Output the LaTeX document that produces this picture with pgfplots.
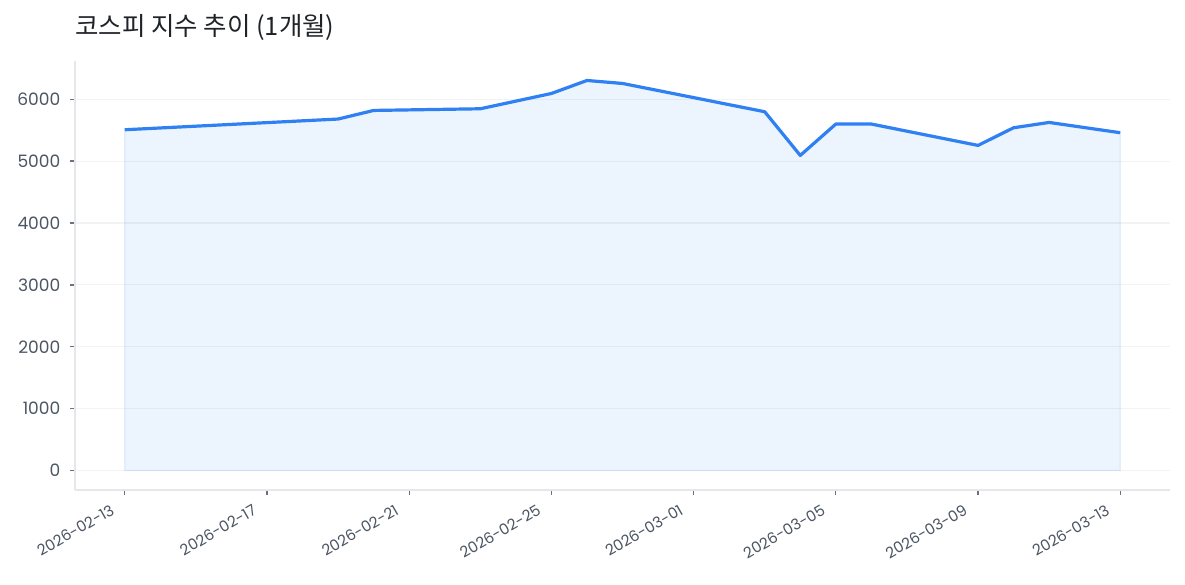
\documentclass[border=0pt]{standalone}
\usepackage{fontspec}
\usepackage{pgfplots}
\pgfplotsset{compat=1.18}
\setmainfont{Poppins}
\newfontfamily\kr{Noto Sans CJK KR}
\definecolor{lineblue}{HTML}{2F80F2}
\definecolor{spine}{HTML}{E5E7EB}
\definecolor{gridc}{HTML}{F2F3F5}
\definecolor{tickc}{HTML}{6B7280}
\definecolor{labc}{HTML}{4B5563}
\definecolor{titlec}{HTML}{1F2328}
\pgfplotstableread{
x y
0 5507
6 5680
7 5819
10 5846
12 6093
13 6303
14 6255
18 5798
19 5092
20 5599
21 5599
24 5254
25 5539
26 5625
28 5459
}\kospi
\begin{document}
\begin{tikzpicture}
\begin{axis}[
  scale only axis,
  width=821.25pt, height=321.75pt,
  xmin=-1.4, xmax=29.4, ymin=-315, ymax=6618,
  axis x line*=bottom, axis y line*=left,
  axis line style={draw=spine, line width=1pt},
  xtick={0,4,8,12,16,20,24,28},
  xticklabels={2026-02-13,2026-02-17,2026-02-21,2026-02-25,2026-03-01,2026-03-05,2026-03-09,2026-03-13},
  ytick={0,1000,2000,3000,4000,5000,6000},
  ymajorgrids,
  grid style={draw=gridc, line width=0.9pt},
  tick align=outside,
  major tick length=3.75pt,
  tick style={draw=tickc, line width=1pt},
  /pgf/number format/assume math mode=true,
  /pgf/number format/1000 sep={},
  y tick label style={font=\fontsize{12.8}{14}\selectfont, text=labc, inner sep=0pt, xshift=-7pt},
  x tick label style={font=\fontsize{11.4}{13}\selectfont, text=labc, rotate=30, anchor=north east, inner sep=0pt, xshift=-13pt, yshift=0pt},
  clip=false,
]
\addplot[draw=lineblue, draw opacity=0.12, fill=lineblue, fill opacity=0.09, line width=1pt] table[x=x,y=y]{\kospi} \closedcycle;
\addplot[draw=lineblue, line width=2.4pt, line join=round, mark=none] table[x=x,y=y]{\kospi};
\end{axis}
\node[anchor=base west, inner sep=0pt, text=titlec, font=\kr\fontsize{19.1}{22}\selectfont] at ([yshift=18.75pt]current axis.north west) {코스피 지수 추이 (1개월)};
\path[use as bounding box] ([xshift=-56.25pt,yshift=-71.25pt]current axis.south west) rectangle ([xshift=11.25pt,yshift=45.75pt]current axis.north east);
\end{tikzpicture}
\end{document}
